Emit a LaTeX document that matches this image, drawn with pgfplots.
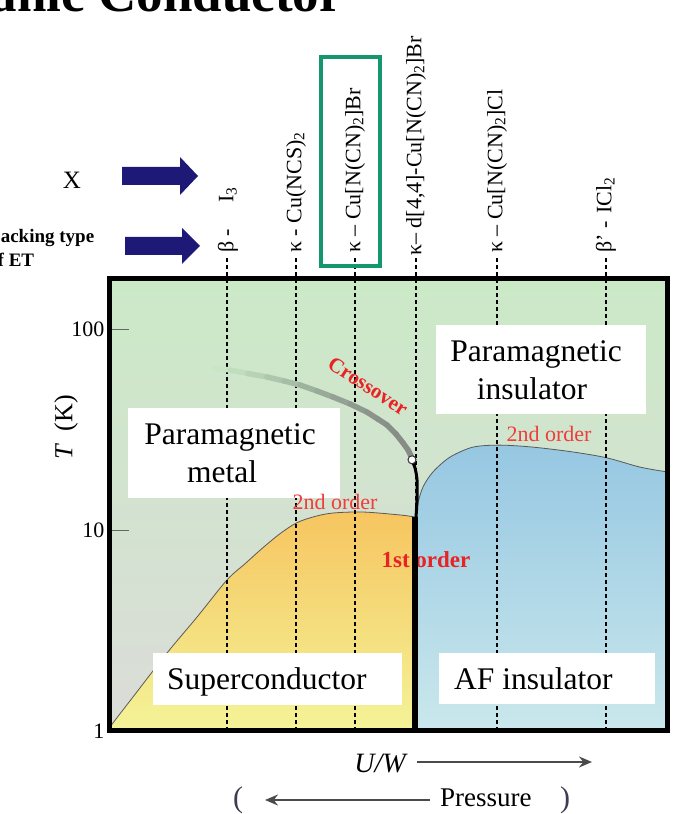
\documentclass[border=0pt]{standalone}
\usepackage{fontspec}
\setmainfont{Liberation Serif}
\usepackage{pgfplots}
\pgfplotsset{compat=1.18}
\usetikzlibrary{arrows.meta}
\definecolor{bggreen}{RGB}{203,233,199}
\definecolor{bggray}{RGB}{219,220,216}
\definecolor{scTop}{RGB}{246,197,96}
\definecolor{scBot}{RGB}{244,244,152}
\definecolor{afTop}{RGB}{150,199,226}
\definecolor{afBot}{RGB}{202,232,236}
\definecolor{navyarrow}{RGB}{30,24,118}
\definecolor{boxgreen}{RGB}{20,150,110}
\definecolor{redA}{RGB}{232,35,35}
\definecolor{redB}{RGB}{240,60,60}
\definecolor{arrowgray}{RGB}{75,75,75}
\definecolor{parcol}{RGB}{60,60,85}
\begin{document}
\begin{tikzpicture}
\path[use as bounding box] (0,0) rectangle (676pt,814pt);
\begin{axis}[
  at={(109pt,83pt)}, anchor=south west,
  scale only axis, width=558pt, height=452pt,
  xmin=109, xmax=667, ymode=log, ymin=1, ymax=178,
  xtick=\empty, ytick={1,10,100}, yticklabels={1,10,100}, yminorticks=false,
  ytick pos=left, tick align=inside, major tick length=20pt,
  tick style={line width=1.2pt, color=black!60},
  yticklabel style={font=\fontsize{22}{22}\selectfont, xshift=-1pt},
  axis line style={line width=5pt},
  axis on top, clip=false,
  axis background/.style={top color=bggreen, middle color=bggreen!85!bggray, bottom color=bggray},
]
% superconducting dome
\addplot[draw=none, top color=scTop, bottom color=scBot, smooth] coordinates {
(109,1) (110,1.047) (133,1.477) (167,2.445) (197,3.69) (227,5.65) (245,6.8) (262,8.1) (280,9.6) (297,10.9) (315,11.7) (333,12.17) (363,12.31) (400,11.90) (415,11.63)
} \closedcycle;
% AF dome
\addplot[draw=none, top color=afTop, bottom color=afBot, smooth] coordinates {
(416,11.63) (418,13.65) (423,16.4) (433,19.5) (450,23.1) (473,25.9) (500,26.5) (533,25.9) (573,24.5) (607,22.9) (640,20.6) (667,19.5)
} \closedcycle;
% outlines
\addplot[smooth, black!65, line width=0.8pt] coordinates {
(109,1) (110,1.047) (133,1.477) (167,2.445) (197,3.69) (227,5.65) (245,6.8) (262,8.1) (280,9.6) (297,10.9) (315,11.7) (333,12.17) (363,12.31) (400,11.90) (415,11.63)
};
\addplot[smooth, black!65, line width=0.8pt] coordinates {
(416,11.63) (418,13.65) (423,16.4) (433,19.5) (450,23.1) (473,25.9) (500,26.5) (533,25.9) (573,24.5) (607,22.9) (640,20.6) (667,19.5)
};
% dashed lines
\addplot[black, line width=1.1pt, dash pattern=on 4pt off 3pt] coordinates {(227,1) (227,226)};
\addplot[black, line width=1.1pt, dash pattern=on 4pt off 3pt] coordinates {(296,1) (296,226)};
\addplot[black, line width=1.1pt, dash pattern=on 4pt off 3pt] coordinates {(355,1) (355,226)};
\addplot[black, line width=1.1pt, dash pattern=on 4pt off 3pt] coordinates {(416,1) (416,226)};
\addplot[black, line width=1.1pt, dash pattern=on 4pt off 3pt] coordinates {(497,1) (497,226)};
\addplot[black, line width=1.1pt, dash pattern=on 4pt off 3pt] coordinates {(606,1) (606,226)};
% 1st order label (under the line)
\node[font=\bfseries\fontsize{23}{23}\selectfont, text=redA, anchor=base] at (axis cs:426,6.48) {1st order};
% first-order line
\addplot[black, line width=6pt] coordinates {(415,11.63) (415,1)};
\addplot[black, line width=3pt, smooth] coordinates {(412,22.2) (415,20.4) (417,17.8) (417,14.1) (416,11.63)};
% crossover
\addplot[mesh, point meta=explicit, point meta min=0, point meta max=1, line width=5.5pt, line cap=round,
  colormap={cross}{rgb255=(203,233,199) rgb255=(165,190,165) rgb255=(135,140,135)}] coordinates {
(215,64.2) [0] (230,62.7) [0.08] (248,60.2) [0.2] (267,57.9) [0.33] (284,55.3) [0.45] (300,52.8) [0.56]
(317,49.3) [0.66] (333,46.0) [0.75] (350,42.5) [0.83] (367,38.7) [0.9] (378,35.7) [0.94] (387,33.4) [0.97]
(396,30.1) [1] (403,27.2) [1] (408,25.1) [1] (412,22.9) [1]
};
% critical point
\addplot[only marks, mark=*, mark size=4pt, mark options={fill=white, draw=black!80, line width=1pt}] coordinates {(412,22.4)};
\end{axis}
\begin{scope}[x=1pt, y=-1pt, yshift=814pt]
% title
\node[anchor=base east, font=\bfseries\fontsize{53}{53}\selectfont, inner sep=0] at (343,12) {Organic Conductor};
% X and packing type
\node[font=\fontsize{25}{25}\selectfont] at (72,180) {X};
\node[anchor=base west, inner sep=0, font=\bfseries\fontsize{19}{19}\selectfont] at (-11,243) {Packing type};
\node[anchor=base west, inner sep=0, font=\bfseries\fontsize{19}{19}\selectfont] at (-12,267) {of ET};
\fill[navyarrow] (122,167) -- (180,167) -- (180,157) -- (198,176) -- (180,195) -- (180,185) -- (122,185) -- cycle;
\fill[navyarrow] (125,237) -- (182,237) -- (182,228) -- (200,246) -- (182,264) -- (182,255) -- (125,255) -- cycle;
% compound labels
\node[rotate=90, anchor=west, inner sep=0, font=\fontsize{22}{22}\selectfont] at (228,253) {β -\hspace{26pt}I\textsubscript{3}};
\node[rotate=90, anchor=west, inner sep=0, font=\fontsize{22}{22}\selectfont] at (296,253) {κ - Cu(NCS)\textsubscript{2}};
\node[rotate=90, anchor=west, inner sep=0, font=\fontsize{22}{22}\selectfont] at (355,253) {κ – Cu[N(CN)\textsubscript{2}]Br};
\node[rotate=90, anchor=west, inner sep=0, font=\fontsize{22}{22}\selectfont] at (416,256) {κ– d[4,4]-Cu[N(CN)\textsubscript{2}]Br};
\node[rotate=90, anchor=west, inner sep=0, font=\fontsize{22}{22}\selectfont] at (497,253) {κ – Cu[N(CN)\textsubscript{2}]Cl};
\node[rotate=90, anchor=west, inner sep=0, font=\fontsize{22}{22}\selectfont] at (606,253) {β' -\hspace{8pt}ICl\textsubscript{2}};
\draw[boxgreen, line width=3.5pt] (321,57) rectangle (380,266);
% axis label
\node[rotate=90, font=\fontsize{26}{26}\selectfont] at (66,427) {\textit{T}\hspace{12pt}(K)};
% region boxes
\fill[white] (128,408) rectangle (340,498);
\node[anchor=base, inner sep=0, font=\fontsize{31.5}{31.5}\selectfont] at (230,445) {Paramagnetic};
\node[anchor=base, inner sep=0, font=\fontsize{31.5}{31.5}\selectfont] at (222,483) {metal};
\fill[white] (436,325) rectangle (646,414);
\node[anchor=base, inner sep=0, font=\fontsize{31.5}{31.5}\selectfont] at (536,362) {Paramagnetic};
\node[anchor=base, inner sep=0, font=\fontsize{31.5}{31.5}\selectfont] at (532,400) {insulator};
\fill[white] (153,653) rectangle (402,705);
\node[anchor=base west, inner sep=0, font=\fontsize{31.5}{31.5}\selectfont] at (167,690) {Superconductor};
\fill[white] (439,653) rectangle (655,704);
\node[anchor=base west, inner sep=0, font=\fontsize{31.5}{31.5}\selectfont] at (454,690) {AF insulator};
% red labels
\node[rotate=-33, text=redA, font=\bfseries\fontsize{21}{21}\selectfont] at (368,386) {Crossover};
\node[text=redB, font=\fontsize{22}{22}\selectfont] at (335,502) {2nd order};
\node[text=redB, font=\fontsize{22}{22}\selectfont] at (549,434) {2nd order};
% bottom
\node[anchor=base, font=\itshape\fontsize{28}{28}\selectfont] at (380,773) {U/W};
\draw[-{Stealth[length=13pt,width=11pt]}, line width=1.5pt, arrowgray] (417,762) -- (592,762);
\draw[-{Stealth[length=13pt,width=11pt]}, line width=1.5pt, arrowgray] (430,800) -- (265,800);
\node[anchor=base west, inner sep=0, font=\fontsize{27}{27}\selectfont] at (440,807) {Pressure};
\node[anchor=base, inner sep=0, font=\fontsize{30}{30}\selectfont, text=parcol] at (238,808) {(};
\node[anchor=base, inner sep=0, font=\fontsize{30}{30}\selectfont, text=parcol] at (565,808) {)};
\end{scope}
\end{tikzpicture}
\end{document}
